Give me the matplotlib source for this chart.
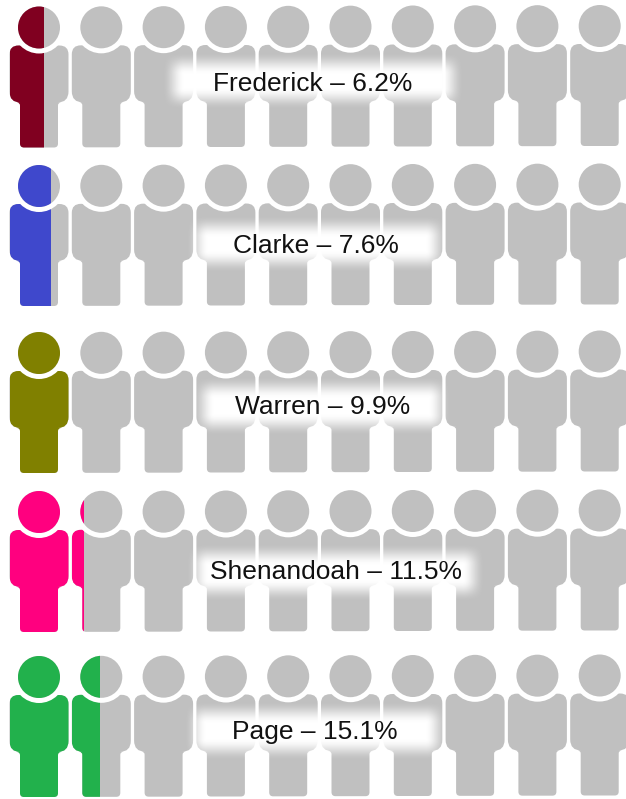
"""Ten-person pictogram rows, one per county, with soft white label plates."""

import numpy as np
import matplotlib
matplotlib.use("Agg")
import matplotlib.pyplot as plt
from matplotlib.patches import Circle, PathPatch, Rectangle
from matplotlib.path import Path

counties = ["Frederick", "Clarke", "Warren", "Shenandoah", "Page"]
shares = ["6.2", "7.6", "9.9", "11.5", "15.1"]
# how many figures are coloured in the picture (not quite proportional to share)
people_filled = [0.585, 0.70, 1.0, 1.21, 1.48]
colors = ["#800020", "#3F48CC", "#808000", "#FF007F", "#22B14C"]
n_people = 10

GRAY = "#C0C0C0"
W, H = 626, 799

# layout, in pixels
row_y = [27.5, 186, 353, 512, 677]
first_x = 39
step_x = 62.3
row_tilt = 1.5  # heads drift up a little going right
plates = [(173, 453, 63, 99), (197, 437, 226, 262), (203, 440, 387, 425),
          (197, 474, 554, 591), (195, 437, 712, 750)]
label_x = [313, 316, 323, 336, 315]
label_y = [84, 246, 407, 572, 732]

HEAD_R = 21
RING_R = 26
BODY = [(-29.5, 18, 9), (29.5, 18, 9), (29.5, 75, 11), (19, 75, 3),
        (19, 120, 4), (-19, 120, 4), (-19, 75, 3), (-29.5, 75, 11)]


def rounded_path(corners):
    """Closed path through (x, y, radius) corners, rounding each with a curve."""
    verts, codes = [], []
    n = len(corners)
    for i, (x, y, r) in enumerate(corners):
        p = np.array([x, y], float)
        prev = np.array(corners[i - 1][:2], float)
        nxt = np.array(corners[(i + 1) % n][:2], float)
        a = p + (prev - p) / np.linalg.norm(prev - p) * r
        b = p + (nxt - p) / np.linalg.norm(nxt - p) * r
        verts.append(a)
        codes.append(Path.MOVETO if i == 0 else Path.LINETO)
        verts += [p, b]
        codes += [Path.CURVE3, Path.CURVE3]
    verts.append(verts[0])
    codes.append(Path.CLOSEPOLY)
    return Path(np.array(verts), codes)


def draw_person(ax, cx, cy, color, fill=1.0):
    """One figure: grey base, then the coloured part clipped from the left."""
    body = [(cx + x, cy + y, r) for x, y, r in BODY]
    left = cx + BODY[0][0]
    width = BODY[1][0] - BODY[0][0]

    ax.add_patch(PathPatch(rounded_path(body), fc=GRAY, ec="none"))
    clip = Rectangle((left, cy - 40), width * fill, 180, transform=ax.transData)
    if fill > 0:
        part = PathPatch(rounded_path(body), fc=color, ec="none")
        ax.add_patch(part)
        part.set_clip_path(clip)
    ax.add_patch(Circle((cx, cy), RING_R, fc="white", ec="none"))
    ax.add_patch(Circle((cx, cy), HEAD_R, fc=GRAY, ec="none"))
    if fill > 0:
        part = Circle((cx, cy), HEAD_R, fc=color, ec="none")
        ax.add_patch(part)
        part.set_clip_path(clip)


def soft_plate(ax, x0, x1, y0, y1, blur=11):
    """White box whose edges fade out, like a blurred rectangle."""
    xs = np.arange(x0 - blur, x1 + blur + 1)
    ys = np.arange(y0 - blur, y1 + blur + 1)
    ax_ = np.minimum(np.clip((xs - x0 + blur) / (2 * blur), 0, 1),
                     np.clip((x1 + blur - xs) / (2 * blur), 0, 1))
    ay_ = np.minimum(np.clip((ys - y0 + blur) / (2 * blur), 0, 1),
                     np.clip((y1 + blur - ys) / (2 * blur), 0, 1))
    ax_ = ax_ * ax_ * (3 - 2 * ax_)
    ay_ = ay_ * ay_ * (3 - 2 * ay_)
    img = np.ones((len(ys), len(xs), 4))
    img[..., 3] = np.outer(ay_, ax_)
    ax.imshow(img, extent=(xs[0], xs[-1], ys[-1], ys[0]), aspect="auto",
              interpolation="bilinear", zorder=5)


fig = plt.figure(figsize=(W / 100, H / 100), dpi=100)
ax = fig.add_axes([0, 0, 1, 1])

for r, county in enumerate(counties):
    for i in range(n_people):
        fill = min(max(people_filled[r] - i, 0), 1)
        draw_person(ax, first_x + i * step_x, row_y[r] - row_tilt * i / (n_people - 1),
                    colors[r], fill)
    soft_plate(ax, *plates[r])
    ax.text(label_x[r], label_y[r], f"{county} – {shares[r]}%", ha="center", va="center",
            fontsize=19, family="Liberation Sans", color="#111111", zorder=6)

ax.set_xlim(0, W)
ax.set_ylim(H, 0)
ax.axis("off")

plt.savefig("out.png", dpi=100)
plt.close()
